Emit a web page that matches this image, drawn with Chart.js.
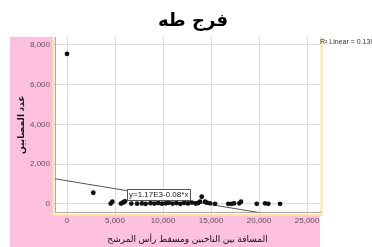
<!DOCTYPE html>
<html>
<head>
<meta charset="utf-8">
<script src="https://cdn.jsdelivr.net/npm/chart.js@4.4.0/dist/chart.umd.min.js"></script>
<style>
  html, body { margin: 0; padding: 0; background: #fff; }
  #wrap { position: relative; width: 372px; height: 247px; }
  #title {
    position: absolute; left: 0; top: 9px; width: 386px; text-align: center;
    font: bold 18px "DejaVu Sans", Arial, sans-serif; color: #000; direction: rtl;
  }
  canvas { position: absolute; left: 0; top: 0; }
</style>
</head>
<body>
<div id="wrap">
  <canvas id="scatter" width="372" height="247"></canvas>
  <div id="title">فرج طه</div>
</div>
<script>
// distance (x) vs. count (y)
var distX = [0, 2740, 4550, 4720, 5620, 5800, 5940, 6040, 6700, 7300,
             7800, 8200, 8700, 9100, 9500, 9900, 10300, 10600, 11000, 11400,
             11800, 12200, 12600, 13000, 13400, 13650, 13850, 14030, 14380, 14550,
             14900, 15420, 16800, 17160, 17400, 17950, 18120, 19760, 20630, 20970, 22190];
var countY = [7550, 565, 20, 115, 20, 65, 100, 135, 20, 15,
              30, 10, 40, 20, 50, 15, 35, 60, 20, 45,
              10, 55, 30, 70, 25, 50, 115, 365, 115, 65,
              35, 10, 10, 10, 35, 35, 115, 10, 35, 10, 10];

// linear fit line endpoints (y=1.17E3-0.08*x), as drawn
var fitX = [-1250, 26350];
var fitY = [1270, -940];

var xTicks = [0, 5000, 10000, 15000, 20000, 25000];
var yTicks = [0, 2000, 4000, 6000, 8000];

var fitLabel = 'y=1.17E3-0.08*x';
var r2Label = 'R\u00B2 Linear = 0.130';
var xTitle = 'المسافة بين الناخبين ومسقط رأس المرشح';
var yTitle = 'عدد المصابين';

var points = distX.map(function(x, i) { return {x: x, y: countY[i]}; });
var fitPoints = fitX.map(function(x, i) { return {x: x, y: fitY[i]}; });

// pink backdrop + white panel, then the fit label and R2 text
var panelPlugin = {
  id: 'panel',
  beforeDraw: function(chart) {
    var ctx = chart.ctx, a = chart.chartArea;
    ctx.save();
    ctx.fillStyle = '#fdc1df';
    ctx.fillRect(10, a.top, a.right - 10, chart.height - a.top);
    ctx.fillStyle = '#fff';
    ctx.fillRect(a.left - 1.5, a.top, a.right - a.left + 2.5, a.bottom - a.top + 2.5);
    ctx.strokeStyle = '#fde2a2';
    ctx.lineWidth = 2;
    ctx.beginPath();
    ctx.moveTo(a.left - 1.5, a.top);
    ctx.lineTo(a.left - 1.5, a.bottom + 2.5);
    ctx.lineTo(a.right + 1.5, a.bottom + 2.5);
    ctx.lineTo(a.right + 1.5, a.top);
    ctx.stroke();
    ctx.restore();
  },
  afterDraw: function(chart) {
    var ctx = chart.ctx, a = chart.chartArea;
    var xs = chart.scales.x, ys = chart.scales.y;
    ctx.save();
    ctx.font = '8px "Liberation Sans", Arial, sans-serif';
    ctx.textBaseline = 'middle';
    var bx = xs.getPixelForValue(6250), by = ys.getPixelForValue(470);
    var w = ctx.measureText(fitLabel).width + 4;
    ctx.fillStyle = '#fff';
    ctx.fillRect(bx, by - 5.5, w, 11);
    ctx.strokeStyle = '#555';
    ctx.lineWidth = 1;
    ctx.strokeRect(Math.round(bx) + 0.5, Math.round(by - 5.5) + 0.5, Math.round(w), 11);
    ctx.fillStyle = '#222';
    ctx.fillText(fitLabel, bx + 2, by + 0.5);
    ctx.font = '7px "Liberation Sans", Arial, sans-serif';
    ctx.fillStyle = '#333';
    ctx.fillText(r2Label, a.right, a.top + 5);
    ctx.restore();
  }
};

new Chart(document.getElementById('scatter'), {
  type: 'scatter',
  data: {
    datasets: [
      {
        label: 'count',
        data: points,
        backgroundColor: '#111',
        borderWidth: 0,
        pointRadius: 2.4
      },
      {
        type: 'line',
        label: 'fit',
        data: fitPoints,
        borderColor: '#555',
        borderWidth: 1,
        pointRadius: 0,
        fill: false
      }
    ]
  },
  options: {
    responsive: false,
    animation: false,
    layout: { padding: { left: 10, right: 52, top: 37, bottom: 0 } },
    plugins: { legend: { display: false }, tooltip: { enabled: false } },
    scales: {
      x: {
        type: 'linear',
        min: -1250,
        max: 26350,
        afterBuildTicks: function(s) { s.ticks = xTicks.map(function(v) { return {value: v}; }); },
        afterFit: function(s) { s.height = 34.5; },
        grid: { color: '#dcdcdc', tickLength: 3, drawTicks: true },
        border: { color: '#aaa' },
        ticks: {
          padding: 0,
          maxRotation: 0,
          color: '#555',
          font: { family: '"Liberation Sans", Arial', size: 8 },
          callback: function(v) { return v.toLocaleString('en-US'); }
        },
        title: {
          display: true,
          text: xTitle,
          color: '#111',
          padding: { top: 0, bottom: 2 },
          font: { family: 'Arial, "DejaVu Sans"', size: 9 }
        }
      },
      y: {
        min: -428,
        max: 8402,
        afterBuildTicks: function(s) { s.ticks = yTicks.map(function(v) { return {value: v}; }); },
        afterFit: function(s) { s.width = 45; },
        grid: { color: '#dcdcdc', tickLength: 4, drawTicks: true },
        border: { color: '#aaa' },
        ticks: {
          padding: 1,
          color: '#555',
          font: { family: '"Liberation Sans", Arial', size: 8 },
          callback: function(v) { return v.toLocaleString('en-US'); }
        },
        title: {
          display: true,
          text: yTitle,
          color: '#111',
          padding: { top: 6.5, bottom: 0 },
          font: { family: 'Arial, "DejaVu Sans"', size: 9, weight: 'bold' }
        }
      }
    }
  },
  plugins: [panelPlugin]
});
</script>
</body>
</html>
